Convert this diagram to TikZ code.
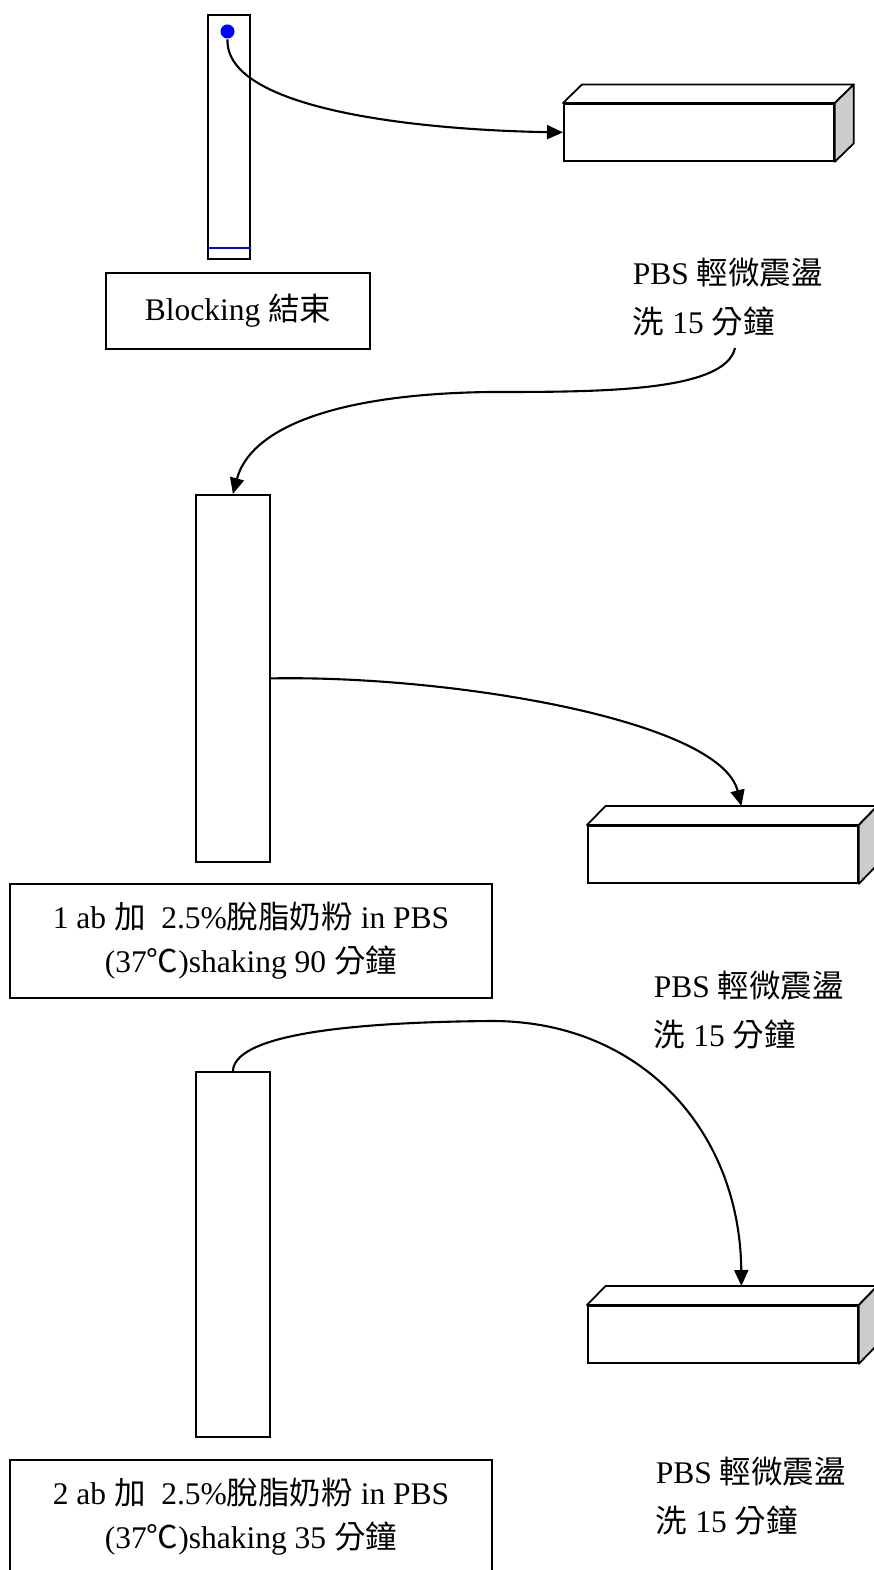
\documentclass[tikz,border=0pt]{standalone}
\usepackage{fontspec}
\setmainfont{Liberation Serif}
\newfontfamily\cjk{Noto Sans CJK TC}
\usetikzlibrary{arrows.meta}
\begin{document}
\begin{tikzpicture}[x=1pt,y=-1pt,line width=1.8pt,
  stripbox/.style={draw, inner sep=0pt, anchor=north west},
  labelbox/.style={draw, inner sep=0pt, align=center, font=\fontsize{31.5}{44}\selectfont},
  front/.style={draw, fill=white, inner sep=0pt, anchor=north west, minimum width=270pt, minimum height=57pt},
  sideface/.style={draw, fill=gray!40, line join=round},
  topface/.style={draw, fill=white, line join=round},
  flow/.style={line width=2.1pt, -{Triangle[length=16pt,width=14pt]}},
  note/.style={inner sep=0pt, anchor=west, align=left, font=\fontsize{31.5}{49}\selectfont}]
\useasboundingbox (0,0) rectangle (874,1570);

% strip 1
\node[stripbox, minimum width=42pt, minimum height=244pt] (s1) at (207,14) {};
\draw[blue] ([yshift=12pt]s1.south west) -- ([yshift=12pt]s1.south east);
\node[circle, fill=blue, inner sep=0pt, minimum width=13pt, minimum height=14pt] (dot) at (227.5,31.5) {};
\node[labelbox, minimum width=264pt, minimum height=76pt] (b1) at (238,311) {Blocking {\cjk 結束}};

% prism 1
\node[front] (t1) at (563,103) {};
\draw[topface] (t1.north west) -- ([shift={(19,-18.5)}]t1.north west) -- ([shift={(19,-18.5)}]t1.north east) -- (t1.north east) -- cycle;
\draw[sideface] (t1.north east) -- ([shift={(19,-18.5)}]t1.north east) -- ([shift={(19,-18.5)}]t1.south east) -- (t1.south east) -- cycle;
\draw[flow] (dot.south) .. controls (225,110) and (420,130) .. (t1.west);

\node[note] (p1) at (632,297) {PBS {\cjk 輕微震盪}\\{\cjk 洗} 15 {\cjk 分鐘}};
\coordinate (c2) at (735,348);

% strip 2
\node[stripbox, minimum width=74pt, minimum height=367pt] (s2) at (195,494) {};
\draw[flow] (c2) .. controls (725,392) and (600,392) .. (490,392) .. controls (330,394) and (250,430) .. (s2.north);

% prism 2
\node[front] (t2) at (587,825) {};
\draw[topface] (t2.north west) -- ([shift={(18.5,-19)}]t2.north west) -- ([shift={(18.5,-19)}]t2.north east) -- (t2.north east) -- cycle;
\draw[sideface] (t2.north east) -- ([shift={(18.5,-19)}]t2.north east) -- ([shift={(18.5,-19)}]t2.south east) -- (t2.south east) -- cycle;
\coordinate (a2) at ([shift={(18.5,-19)}]t2.north);
\draw[flow] (s2.east) .. controls (450,675) and (720,720) .. (a2);

\node[labelbox, minimum width=482pt, minimum height=114pt] (b2) at (251,941) {1 ab {\cjk 加}\ \ 2.5\%{\cjk 脫脂奶粉} in PBS\\({37\cjk ℃})shaking 90 {\cjk 分鐘}};
\node[note] (p2) at (653,1010) {PBS {\cjk 輕微震盪}\\{\cjk 洗} 15 {\cjk 分鐘}};

% strip 3
\node[stripbox, minimum width=74pt, minimum height=365pt] (s3) at (195,1071) {};

% prism 3
\node[front] (t3) at (587,1305) {};
\draw[topface] (t3.north west) -- ([shift={(18.5,-19)}]t3.north west) -- ([shift={(18.5,-19)}]t3.north east) -- (t3.north east) -- cycle;
\draw[sideface] (t3.north east) -- ([shift={(18.5,-19)}]t3.north east) -- ([shift={(18.5,-19)}]t3.south east) -- (t3.south east) -- cycle;
\coordinate (a3) at ([shift={(18.5,-19)}]t3.north);
\draw[flow] (s3.north) .. controls (235,1030) and (380,1022) .. (490,1021) .. controls (640,1020) and (740,1130) .. (a3);

\node[labelbox, minimum width=482pt, minimum height=114pt] (b3) at (251,1517) {2 ab {\cjk 加}\ \ 2.5\%{\cjk 脫脂奶粉} in PBS\\({37\cjk ℃})shaking 35 {\cjk 分鐘}};
\node[note] (p3) at (655,1496) {PBS {\cjk 輕微震盪}\\{\cjk 洗} 15 {\cjk 分鐘}};
\end{tikzpicture}
\end{document}
